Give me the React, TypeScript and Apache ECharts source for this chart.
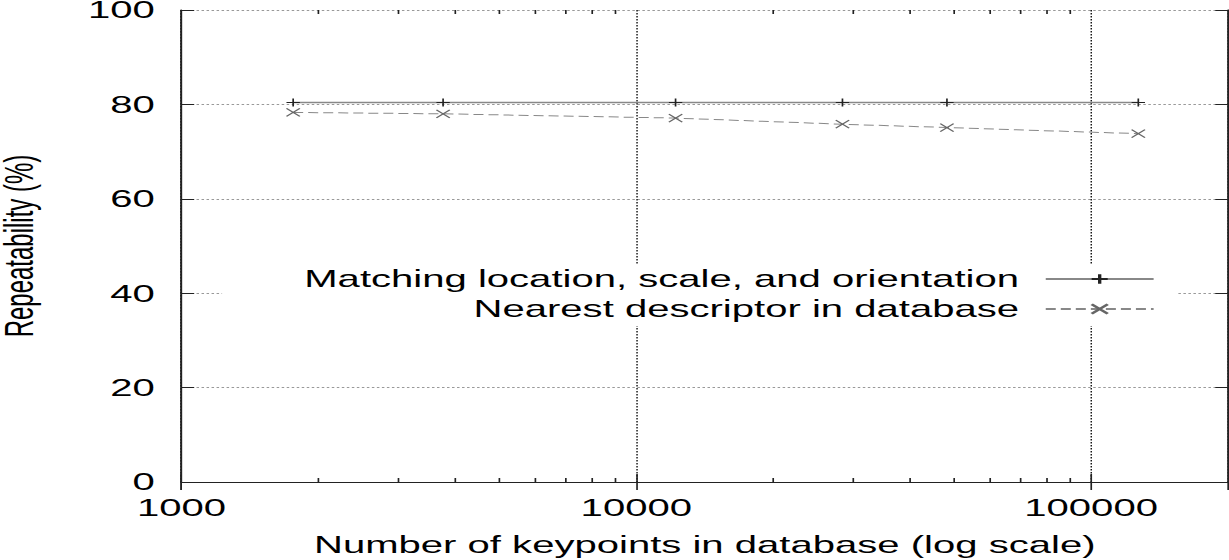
import React, { useEffect, useRef } from 'react';
import * as echarts from 'echarts';

// ---- data ----
const keypoints = [1760, 3760, 12200, 28400, 48200, 127000];
const matchingValues = [80.4, 80.4, 80.4, 80.4, 80.4, 80.4];
const nearestValues = [78.3, 78.0, 77.1, 75.8, 75.1, 73.8];
const xTickLabels = [1000, 10000, 100000];
const xMinorTicks = [
  2000, 3000, 4000, 5000, 6000, 7000, 8000, 9000,
  20000, 30000, 40000, 50000, 60000, 70000, 80000, 90000,
];
const seriesNames = ['Matching location, scale, and orientation', 'Nearest descriptor in database'];
const xAxisTitle = 'Number of keypoints in database (log scale)';
const yAxisTitle = 'Repeatability (%)';
const X_MIN = 1000;
const X_MAX = 200000;
const Y_MIN = 0;
const Y_MAX = 100;
const Y_STEP = 20;

// ---- layout ----
const PAGE_W = 1229;
const PAGE_H = 560;
const W = 736; // unscaled chart width
const SX = PAGE_W / W; // horizontal stretch of the reference figure
const FONT = '"Liberation Sans", Arial, Helvetica, sans-serif';

const PLUS = 'path://M5,0L5,10M0,5L10,5';
const CROSS = 'path://M0,0L10,10M10,0L0,10';

function fmtX(v: number) {
  const t = xTickLabels.find((tv) => Math.abs(tv - v) / tv < 1e-6);
  return t !== undefined ? String(t) : '';
}

const axisLineStyle = { color: '#222', width: 1.2 };

const option: any = {
  animation: false,
  backgroundColor: '#fff',
  textStyle: { fontFamily: FONT, color: '#000' },
  grid: {
    left: 181.5 / SX,
    right: W - 1228 / SX,
    top: 10,
    bottom: 78,
    containLabel: false,
    outerBoundsMode: 'none',
  },
  xAxis: [
    {
      type: 'log',
      logBase: 10,
      min: X_MIN,
      max: X_MAX,
      position: 'bottom',
      name: xAxisTitle,
      nameLocation: 'middle',
      nameGap: 51,
      nameTextStyle: { fontSize: 24, color: '#000', fontFamily: FONT },
      axisLine: { show: true, lineStyle: axisLineStyle },
      axisTick: { show: true, inside: true, length: 8, lineStyle: { color: '#222', width: 1 } },
      axisLabel: {
        show: true,
        margin: 14,
        fontSize: 24,
        color: '#000',
        fontFamily: FONT,
        formatter: fmtX,
        showMinLabel: true,
        showMaxLabel: false,
        hideOverlap: false,
      },
      splitLine: { show: true, lineStyle: { color: '#000', type: [1.5, 1.5], width: 0.8 } },
      minorTick: { show: false },
      minorSplitLine: { show: false },
    },
    {
      type: 'log',
      logBase: 10,
      min: X_MIN,
      max: X_MAX,
      position: 'top',
      axisLine: { show: true, lineStyle: axisLineStyle },
      axisTick: { show: true, inside: true, length: 8, lineStyle: { color: '#222', width: 1 } },
      axisLabel: { show: false },
      splitLine: { show: false },
    },
  ],
  yAxis: [
    {
      type: 'value',
      min: Y_MIN,
      max: Y_MAX,
      interval: Y_STEP,
      position: 'left',
      name: yAxisTitle,
      nameLocation: 'middle',
      nameRotate: 90,
      nameGap: 86,
      nameTextStyle: { fontSize: 24, lineHeight: 22, color: '#000', fontFamily: FONT },
      axisLine: { show: true, lineStyle: axisLineStyle },
      axisTick: { show: true, inside: true, length: 7.6, lineStyle: { color: '#222', width: 1 } },
      axisLabel: { show: true, margin: 16, fontSize: 24, lineHeight: 19, color: '#000', fontFamily: FONT },
      splitLine: { show: true, lineStyle: { color: '#999', type: [1.5, 1.5], width: 1 } },
    },
    {
      type: 'value',
      min: Y_MIN,
      max: Y_MAX,
      interval: Y_STEP,
      position: 'right',
      axisLine: { show: true, lineStyle: axisLineStyle },
      axisTick: { show: true, inside: true, length: 7.6, lineStyle: { color: '#222', width: 1 } },
      axisLabel: { show: false },
      splitLine: { show: false },
    },
  ],
  legend: {
    data: seriesNames,
    orient: 'vertical',
    align: 'right',
    right: W - 1177 / SX,
    top: 265,
    padding: [2, 13, 5, 49],
    itemWidth: 64.6,
    itemHeight: 12,
    itemGap: 6,
    backgroundColor: '#fff',
    selectedMode: false,
    textStyle: { fontSize: 24, color: '#000', fontFamily: FONT, padding: [0, 11, 0, 0] },
    z: 10,
  },
  series: [
    {
      type: 'custom',
      name: 'minor-ticks',
      silent: true,
      clip: false,
      z: 1,
      data: xMinorTicks.map((v) => [v, Y_MIN]),
      encode: { x: 0, y: 1 },
      renderItem: (params: any, api: any) => {
        const v = api.value(0);
        const b = api.coord([v, Y_MIN]);
        const t = api.coord([v, Y_MAX]);
        const st = { stroke: '#222', lineWidth: 1 };
        return {
          type: 'group',
          children: [
            { type: 'line', shape: { x1: b[0], y1: b[1], x2: b[0], y2: b[1] - 4 }, style: st },
            { type: 'line', shape: { x1: t[0], y1: t[1], x2: t[0], y2: t[1] + 4 }, style: st },
          ],
        };
      },
    },
    {
      name: seriesNames[0],
      type: 'line',
      data: keypoints.map((k, i) => [k, matchingValues[i]]),
      symbol: PLUS,
      symbolSize: 8,
      showSymbol: true,
      lineStyle: { color: '#888', width: 1.5, type: 'solid' },
      itemStyle: { color: '#222', borderColor: '#222', borderWidth: 1 },
      z: 3,
    },
    {
      name: seriesNames[1],
      type: 'line',
      data: keypoints.map((k, i) => [k, nearestValues[i]]),
      symbol: CROSS,
      symbolSize: 8,
      showSymbol: true,
      lineStyle: { color: '#888', width: 1, type: [6, 3] },
      itemStyle: { color: '#666', borderColor: '#666', borderWidth: 1 },
      z: 3,
    },
  ],
};

export default function App() {
  const ref = useRef<HTMLDivElement>(null);
  useEffect(() => {
    if (!ref.current) return;
    const chart = echarts.init(ref.current, undefined, { renderer: 'svg' });
    chart.setOption(option);
    return () => chart.dispose();
  }, []);
  return (
    <div
      style={{
        position: 'absolute',
        left: 0,
        top: 0,
        width: PAGE_W,
        height: PAGE_H,
        overflow: 'hidden',
        background: '#fff',
      }}
    >
      <div
        ref={ref}
        style={{ width: W, height: PAGE_H, transform: `scaleX(${SX})`, transformOrigin: '0 0' }}
      />
    </div>
  );
}
